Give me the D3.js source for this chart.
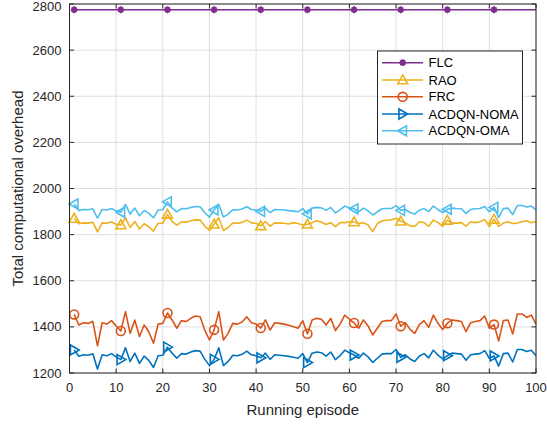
<!DOCTYPE html>
<html><head><meta charset="utf-8">
<script src="https://cdn.jsdelivr.net/npm/d3@7/dist/d3.min.js"></script>
<style>body{margin:0;background:#fff}svg{display:block;font-family:"Liberation Sans",Arial,sans-serif}</style>
</head><body><svg id="c" width="547" height="425"></svg>
<script>
const episodes = d3.range(1, 101);
const xTicks = [0,10,20,30,40,50,60,70,80,90,100];
const yTicks = [1200,1400,1600,1800,2000,2200,2400,2600,2800];
const seriesNames = ["FLC","RAO","FRC","ACDQN-NOMA","ACDQN-OMA"];
const FLC = [
2775,2775,2775,2775,2775,2775,2775,2775,2775,2775,
2775,2775,2775,2775,2775,2775,2775,2775,2775,2775,
2775,2775,2775,2775,2775,2775,2775,2775,2775,2775,
2775,2775,2775,2775,2775,2775,2775,2775,2775,2775,
2775,2775,2775,2775,2775,2775,2775,2775,2775,2775,
2775,2775,2775,2775,2775,2775,2775,2775,2775,2775,
2775,2775,2775,2775,2775,2775,2775,2775,2775,2775,
2775,2775,2775,2775,2775,2775,2775,2775,2775,2775,
2775,2775,2775,2775,2775,2775,2775,2775,2775,2775,
2775,2775,2775,2775,2775,2775,2775,2775,2775,2775];
const RAO = [
1870,1847,1851,1850,1854,1812,1851,1849,1855,1845,
1842,1873,1831,1857,1824,1847,1834,1815,1849,1850,
1888,1857,1841,1855,1854,1860,1864,1863,1837,1818,
1845,1873,1818,1831,1850,1849,1853,1863,1851,1849,
1838,1857,1837,1851,1850,1849,1846,1852,1848,1842,
1845,1852,1860,1855,1844,1852,1835,1852,1852,1856,
1855,1848,1852,1842,1813,1848,1860,1862,1864,1871,
1858,1851,1838,1836,1856,1852,1836,1863,1852,1836,
1862,1850,1850,1852,1837,1856,1852,1856,1866,1835,
1866,1836,1850,1856,1848,1850,1856,1860,1852,1856];
const FRC = [
1454,1408,1418,1415,1424,1318,1418,1412,1427,1404,
1382,1466,1372,1430,1358,1408,1379,1329,1412,1415,
1460,1430,1394,1427,1423,1437,1447,1444,1386,1343,
1387,1466,1343,1372,1415,1412,1421,1444,1418,1412,
1395,1430,1386,1418,1415,1412,1407,1401,1394,1427,
1370,1430,1437,1433,1408,1437,1384,1412,1451,1433,
1417,1394,1430,1404,1365,1394,1423,1427,1427,1456,
1403,1418,1389,1372,1410,1427,1398,1451,1415,1389,
1416,1430,1427,1423,1379,1418,1423,1427,1447,1394,
1410,1339,1427,1430,1369,1456,1456,1441,1451,1412];
const NOMA = [
1300,1273,1279,1277,1283,1217,1279,1275,1284,1270,
1258,1309,1250,1286,1242,1273,1255,1224,1275,1277,
1312,1286,1264,1284,1282,1291,1297,1295,1259,1232,
1259,1309,1232,1250,1277,1275,1281,1295,1279,1275,
1266,1286,1259,1279,1277,1275,1272,1268,1264,1284,
1245,1286,1291,1288,1273,1291,1258,1275,1299,1288,
1278,1264,1286,1270,1246,1264,1282,1284,1284,1302,
1268,1279,1261,1250,1274,1284,1266,1299,1277,1261,
1275,1286,1284,1282,1255,1279,1282,1284,1297,1264,
1274,1230,1284,1286,1248,1302,1302,1293,1299,1275];
const OMA = [
1933,1905,1909,1908,1912,1872,1909,1907,1913,1903,
1897,1931,1889,1915,1882,1905,1892,1873,1907,1908,
1942,1915,1899,1913,1912,1918,1922,1921,1895,1876,
1907,1931,1876,1889,1908,1907,1911,1921,1909,1907,
1901,1915,1895,1909,1908,1907,1904,1902,1899,1913,
1890,1915,1918,1916,1905,1918,1894,1907,1924,1916,
1912,1899,1915,1903,1885,1899,1912,1913,1913,1926,
1905,1909,1896,1889,1906,1913,1900,1924,1908,1896,
1910,1915,1913,1912,1892,1909,1912,1913,1922,1899,
1918,1874,1913,1915,1887,1926,1926,1920,1924,1907];
const markerEpisodes = [1,11,21,31,41,51,61,71,81,91];

const colors = ["#7E2F8E","#EDB120","#D95319","#0072BD","#4DBEEE"];
const markers = ["star","triUp","circle","triRight","triLeft"];
const data = [FLC, RAO, FRC, NOMA, OMA];

const svg = d3.select("#c");
const L = 69.5, R = 536, T = 4, B = 373;
const x = d3.scaleLinear().domain([0,100]).range([L,R]);
const y = d3.scaleLinear().domain([1200,2800]).range([B,T]);
const axisCol = "#262626";

// grid
svg.append("g").selectAll("line").data(xTicks).join("line")
  .attr("x1",d=>x(d)).attr("x2",d=>x(d)).attr("y1",T).attr("y2",B)
  .attr("stroke","#dfdfdf").attr("stroke-width",1);
svg.append("g").selectAll("line").data(yTicks).join("line")
  .attr("y1",d=>y(d)).attr("y2",d=>y(d)).attr("x1",L).attr("x2",R)
  .attr("stroke","#dfdfdf").attr("stroke-width",1);

function markerPath(type, s){
  const h = s/2;
  switch(type){
    case "triUp": return `M0,${-h}L${h},${h*0.75}L${-h},${h*0.75}Z`;
    case "triRight": return `M${h},0L${-h*0.75},${h}L${-h*0.75},${-h}Z`;
    case "triLeft": return `M${-h},0L${h*0.75},${h}L${h*0.75},${-h}Z`;
    case "circle": return d3.symbol(d3.symbolCircle, Math.PI*h*h*0.8)();
    case "star": {
      const a=h*0.85, b=h*0.6;
      return `M${-a},0L${a},0M0,${-a}L0,${a}M${-b},${-b}L${b},${b}M${-b},${b}L${b},${-b}`;
    }
  }
}

const line = d3.line().x((d,i)=>x(episodes[i])).y(d=>y(d));
const plot = svg.append("g");
data.forEach((arr,k)=>{
  plot.append("path").attr("d",line(arr)).attr("fill","none")
    .attr("stroke",colors[k]).attr("stroke-width",1.6).attr("stroke-linejoin","round");
  plot.append("g").selectAll("path").data(markerEpisodes).join("path")
    .attr("transform",e=>`translate(${x(e)},${y(arr[e-1])})`)
    .attr("d",markerPath(markers[k], k===0?8:10))
    .attr("fill","none").attr("stroke",colors[k]).attr("stroke-width",k===0?2:1.6);
});

// axes box
const ax = svg.append("g");
ax.append("rect").attr("x",L).attr("y",T).attr("width",R-L).attr("height",B-T)
  .attr("fill","none").attr("stroke",axisCol).attr("stroke-width",1);
const tl = 4.5;
xTicks.forEach(t=>{
  ax.append("line").attr("x1",x(t)).attr("x2",x(t)).attr("y1",B).attr("y2",B-tl).attr("stroke",axisCol);
  ax.append("line").attr("x1",x(t)).attr("x2",x(t)).attr("y1",T).attr("y2",T+tl).attr("stroke",axisCol);
  ax.append("text").attr("x",x(t)).attr("y",B+19).attr("text-anchor","middle")
    .attr("font-size",13).attr("fill",axisCol).text(t);
});
yTicks.forEach(t=>{
  ax.append("line").attr("x1",L).attr("x2",L+tl).attr("y1",y(t)).attr("y2",y(t)).attr("stroke",axisCol);
  ax.append("line").attr("x1",R).attr("x2",R-tl).attr("y1",y(t)).attr("y2",y(t)).attr("stroke",axisCol);
  ax.append("text").attr("x",L-8).attr("y",Math.max(y(t)+4.5,10.5)).attr("text-anchor","end")
    .attr("font-size",13).attr("fill",axisCol).text(t);
});
svg.append("text").attr("x",(L+R)/2).attr("y",414.5).attr("text-anchor","middle")
  .attr("font-size",15).attr("fill",axisCol).text("Running episode");
svg.append("text").attr("transform",`translate(23,${(T+B)/2}) rotate(-90)`).attr("text-anchor","middle")
  .attr("font-size",15).attr("fill",axisCol).text("Total computational overhead");

// legend
const lg = svg.append("g");
lg.append("rect").attr("x",377.5).attr("y",51).attr("width",145).attr("height",93)
  .attr("fill","#fff").attr("stroke",axisCol).attr("stroke-width",1);
const rowY = [62.7,80,96.8,114,130.8];
seriesNames.forEach((n,k)=>{
  lg.append("line").attr("x1",382).attr("x2",423).attr("y1",rowY[k]).attr("y2",rowY[k])
    .attr("stroke",colors[k]).attr("stroke-width",1.6);
  lg.append("path").attr("transform",`translate(402.7,${rowY[k]})`)
    .attr("d",markerPath(markers[k], k===0?8:10)).attr("fill","none")
    .attr("stroke",colors[k]).attr("stroke-width",k===0?2:1.6);
  lg.append("text").attr("x",428.5).attr("y",rowY[k]+4.5).attr("font-size",13)
    .attr("fill","#000").text(n);
});
</script></body></html>
